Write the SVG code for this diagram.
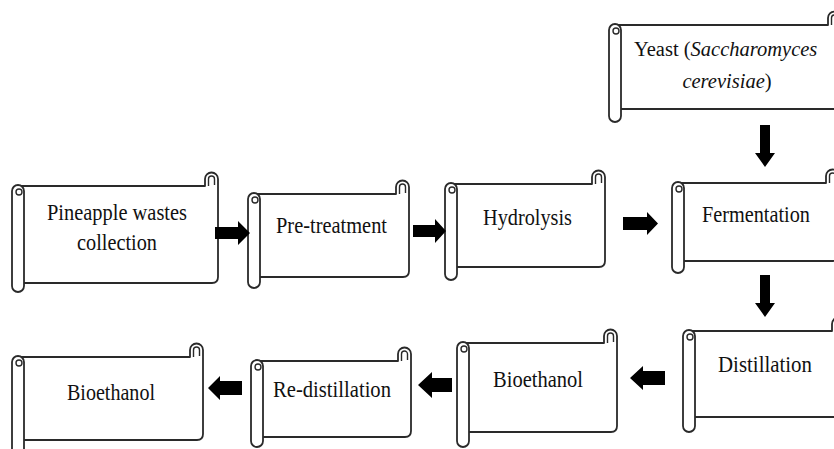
<svg xmlns="http://www.w3.org/2000/svg" width="834" height="449" viewBox="0 0 834 449">
<style>
.b{fill:#fff;stroke:#2a2a2a;stroke-width:1.8;stroke-linejoin:round}
.c{fill:none;stroke:#2a2a2a;stroke-width:1.4}
.t{font-size:23px;fill:#111}
.y{font-size:20.5px;fill:#111}
.i{font-style:italic}
.a{fill:#000}
</style>
<rect width="834" height="449" fill="#fff"/>
<g id="n1">
<path class="b" d="M18,186 H205 V179 A6.5 6.5 0 0 1 218,179 V277 Q218,283 212,283 H18 Z"/>
<path class="c" d="M208.5,186 V179 A3 3 0 1 1 214.5,179 V185"/>
<rect class="b" x="12" y="185" width="12" height="107" rx="6"/>
<circle class="c" cx="19" cy="192" r="3"/>
<text class="t" font-family="'Liberation Serif', 'DejaVu Serif', serif" x="47" y="220" textLength="140" lengthAdjust="spacingAndGlyphs">Pineapple wastes</text>
<text class="t" font-family="'Liberation Serif', 'DejaVu Serif', serif" x="77" y="250" textLength="80" lengthAdjust="spacingAndGlyphs">collection</text>
</g>
<g id="n2">
<path class="b" d="M254,194 H396 V187 A6.5 6.5 0 0 1 409,187 V271 Q409,277 403,277 H254 Z"/>
<path class="c" d="M399.5,194 V187 A3 3 0 1 1 405.5,187 V193"/>
<rect class="b" x="248" y="193" width="12" height="95" rx="6"/>
<circle class="c" cx="255" cy="200" r="3"/>
<text class="t" font-family="'Liberation Serif', 'DejaVu Serif', serif" x="276" y="233" textLength="111" lengthAdjust="spacingAndGlyphs">Pre-treatment</text>
</g>
<g id="n3">
<path class="b" d="M451,184 H592 V177 A6.5 6.5 0 0 1 605,177 V261 Q605,267 599,267 H451 Z"/>
<path class="c" d="M595.5,184 V177 A3 3 0 1 1 601.5,177 V183"/>
<rect class="b" x="445" y="183" width="12" height="97" rx="6"/>
<circle class="c" cx="452" cy="190" r="3"/>
<text class="t" font-family="'Liberation Serif', 'DejaVu Serif', serif" x="483" y="225" textLength="89" lengthAdjust="spacingAndGlyphs">Hydrolysis</text>
</g>
<g id="n4">
<path class="b" d="M678,183 H826 V176 A6.5 6.5 0 0 1 839,176 V255 Q839,261 833,261 H678 Z"/>
<path class="c" d="M829.5,183 V176 A3 3 0 1 1 835.5,176 V182"/>
<rect class="b" x="672" y="182" width="12" height="91" rx="6"/>
<circle class="c" cx="679" cy="189" r="3"/>
<text class="t" font-family="'Liberation Serif', 'DejaVu Serif', serif" x="702" y="222" textLength="108" lengthAdjust="spacingAndGlyphs">Fermentation</text>
</g>
<g id="n5">
<path class="b" d="M615,25 H828 V18 A6.5 6.5 0 0 1 841,18 V103 Q841,109 835,109 H615 Z"/>
<path class="c" d="M831.5,25 V18 A3 3 0 1 1 837.5,18 V24"/>
<rect class="b" x="609" y="24" width="12" height="98" rx="6"/>
<circle class="c" cx="616" cy="31" r="3"/>
<text class="y" font-family="'Liberation Serif', 'DejaVu Serif', serif" x="634" y="56">Yeast (<tspan class="i">Saccharomyces</tspan></text>
<text class="y" font-family="'Liberation Serif', 'DejaVu Serif', serif" x="727" y="88" text-anchor="middle"><tspan class="i">cerevisiae</tspan>)</text>
</g>
<g id="n6">
<path class="b" d="M689,331 H832 V324 A6.5 6.5 0 0 1 845,324 V411 Q845,417 839,417 H689 Z"/>
<path class="c" d="M835.5,331 V324 A3 3 0 1 1 841.5,324 V330"/>
<rect class="b" x="683" y="330" width="12" height="102" rx="6"/>
<circle class="c" cx="690" cy="337" r="3"/>
<text class="t" font-family="'Liberation Serif', 'DejaVu Serif', serif" x="718" y="372" textLength="94" lengthAdjust="spacingAndGlyphs">Distillation</text>
</g>
<g id="n7">
<path class="b" d="M463,343 H604 V336 A6.5 6.5 0 0 1 617,336 V426 Q617,432 611,432 H463 Z"/>
<path class="c" d="M607.5,343 V336 A3 3 0 1 1 613.5,336 V342"/>
<rect class="b" x="457" y="342" width="12" height="105" rx="6"/>
<circle class="c" cx="464" cy="349" r="3"/>
<text class="t" font-family="'Liberation Serif', 'DejaVu Serif', serif" x="493" y="387" textLength="90" lengthAdjust="spacingAndGlyphs">Bioethanol</text>
</g>
<g id="n8">
<path class="b" d="M257,361 H398 V354 A6.5 6.5 0 0 1 411,354 V431 Q411,437 405,437 H257 Z"/>
<path class="c" d="M401.5,361 V354 A3 3 0 1 1 407.5,354 V360"/>
<rect class="b" x="251" y="360" width="12" height="87" rx="6"/>
<circle class="c" cx="258" cy="367" r="3"/>
<text class="t" font-family="'Liberation Serif', 'DejaVu Serif', serif" x="273" y="397" textLength="118" lengthAdjust="spacingAndGlyphs">Re-distillation</text>
</g>
<g id="n9">
<path class="b" d="M18,357 H190 V350 A6.5 6.5 0 0 1 203,350 V434 Q203,440 197,440 H18 Z"/>
<path class="c" d="M193.5,357 V350 A3 3 0 1 1 199.5,350 V356"/>
<rect class="b" x="12" y="356" width="12" height="99" rx="6"/>
<circle class="c" cx="19" cy="363" r="3"/>
<text class="t" font-family="'Liberation Serif', 'DejaVu Serif', serif" x="67" y="400" textLength="88" lengthAdjust="spacingAndGlyphs">Bioethanol</text>
</g>
<g id="connectors">
<polygon class="a" points="215,227 238,227 238,221 250,233 238,245 238,239 215,239"/>
<polygon class="a" points="413,225 435,225 435,219 446,231 435,243 435,237 413,237"/>
<polygon class="a" points="623,217 647,217 647,212 658,223.5 647,235 647,230 623,230"/>
<polygon class="a" points="760,125 770,125 770,153 775,153 765,167 755,153 760,153"/>
<polygon class="a" points="760,275 770,275 770,303 775,303 765,317 755,303 760,303"/>
<polygon class="a" points="665,371 643,371 643,366 630,378 643,390 643,385 665,385"/>
<polygon class="a" points="452,378 432,378 432,372 418,385 432,398 432,392 452,392"/>
<polygon class="a" points="242,381 220,381 220,376 208,388 220,400 220,395 242,395"/>
</g>
</svg>
